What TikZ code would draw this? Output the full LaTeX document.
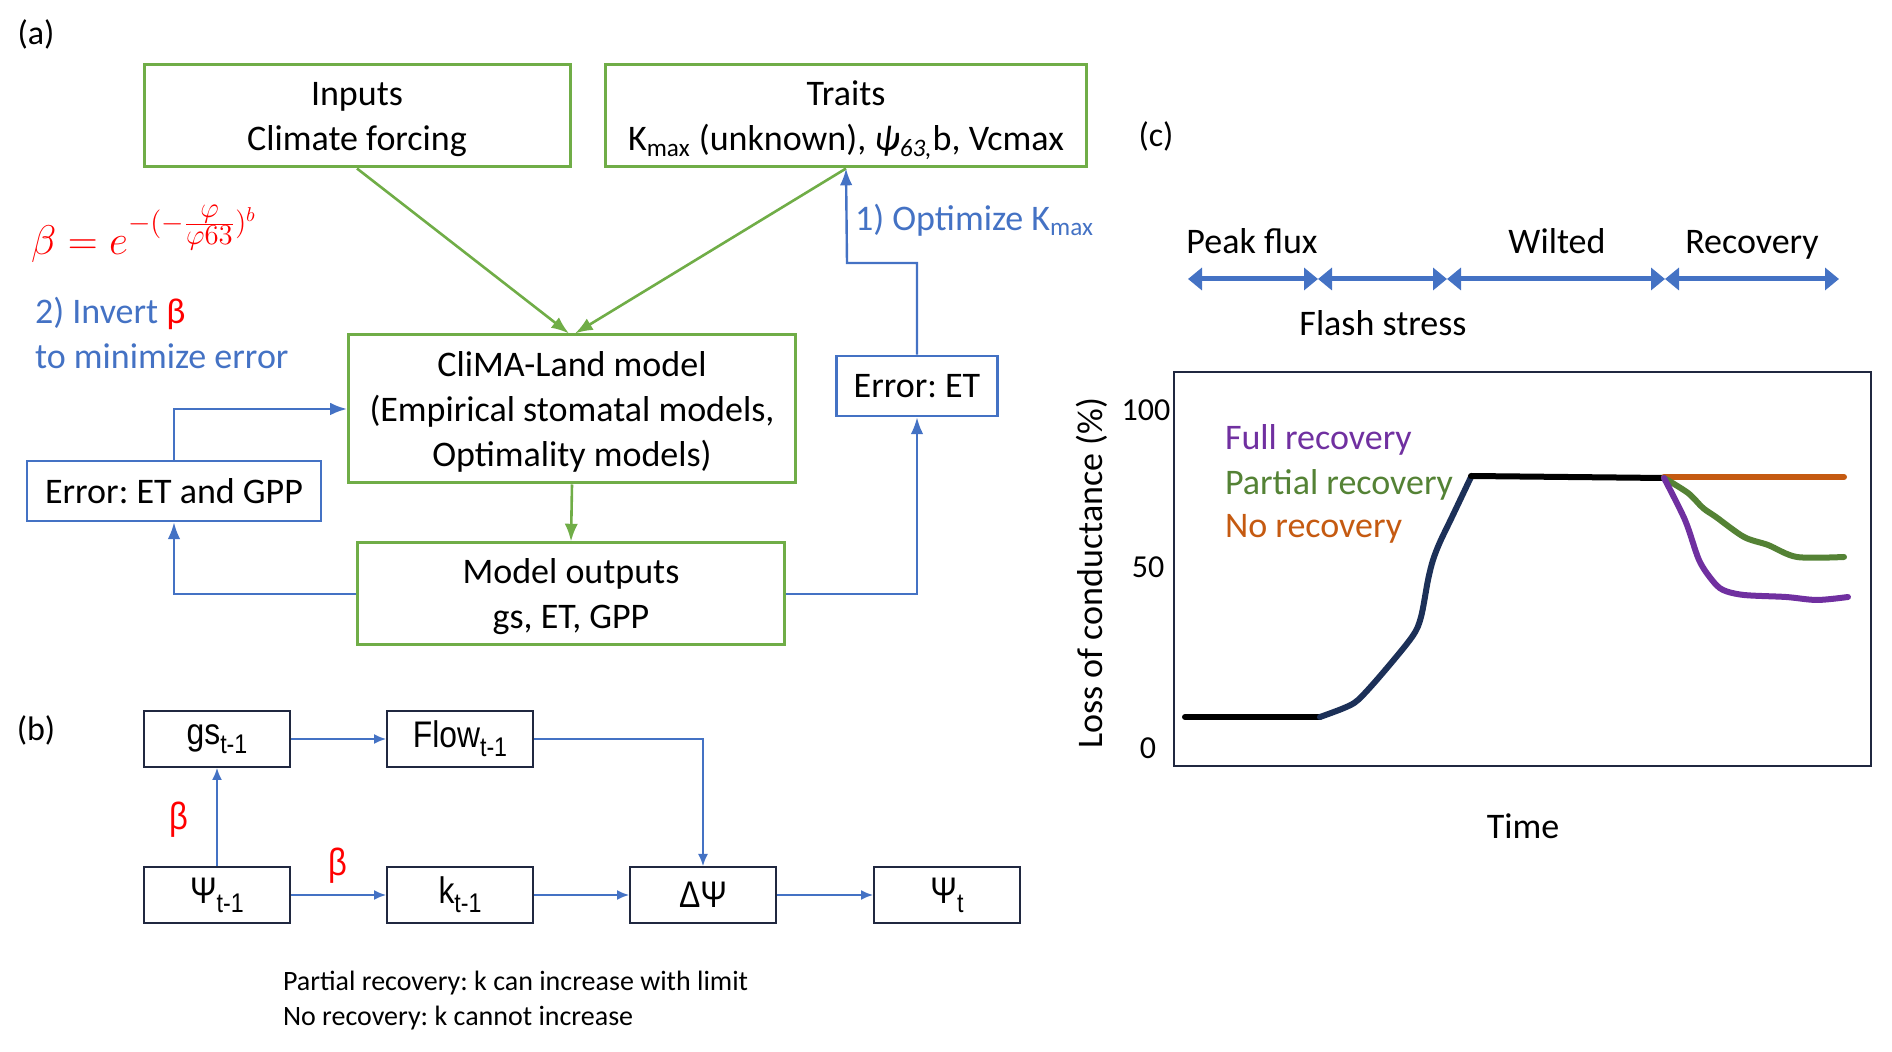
\documentclass[tikz,border=0pt]{standalone}
\usepackage{fontspec}
\setmainfont{Carlito}
\newfontfamily\arialfont[FakeStretch=0.86]{Liberation Sans}
\usepackage{amsmath}
\usetikzlibrary{
  calc,
  positioning,
  arrows.meta
}
\definecolor{boxgreen}{RGB}{112,173,71}
\definecolor{linkblue}{RGB}{68,114,196}
\definecolor{boxnavy}{RGB}{32,40,64}
\definecolor{risenavy}{RGB}{28,48,88}
\definecolor{fullpurple}{RGB}{112,48,160}
\definecolor{partgreen}{RGB}{84,130,53}
\definecolor{noorange}{RGB}{197,90,17}
\newcommand{\stepsub}[1]{\raisebox{-4.5pt}{\fontsize{13.5}{14}\selectfont #1}}
\frenchspacing

\begin{document}
\begin{tikzpicture}[>=Latex, x=0.5pt, y=-0.5pt]
  \tikzset{
    big/.style={font=\fontsize{18}{22.5}\selectfont},
    gbox/.style={big, draw=boxgreen, line width=1.5pt, align=center, inner sep=0pt,
      text depth=-1pt},
    bbox/.style={big, draw=linkblue, line width=1.3pt, align=center, inner sep=0pt},
    glink/.style={->, draw=boxgreen, line width=1.3pt},
    blink/.style={->, draw=linkblue, line width=1.2pt},
    stepnode/.style={font=\arialfont\fontsize{18.5}{20}\selectfont, draw=boxnavy, line width=1pt,
      minimum width=73pt, minimum height=28pt, inner sep=0pt},
    slink/.style={-{Latex[length=6pt,width=5pt]}, draw=linkblue, line width=0.8pt},
    phase/.style={{Triangle[length=7pt,width=11pt]}-{Triangle[length=7pt,width=11pt]},
      draw=linkblue, line width=2.5pt},
    curve/.style={line width=3pt, line cap=round, line join=round},
  }
  \useasboundingbox (0,0) rectangle (1892,1052);

  % (a)
  \node[font=\fontsize{17}{20}\selectfont] (lbla) at (36,34) {(a)};
  \node[gbox, minimum width=213pt, minimum height=51pt] (inputs) at (357,116)
    {Inputs\\Climate forcing};
  \node[gbox, minimum width=240.5pt, minimum height=51pt] (traits) at (846,116)
    {Traits\\K\textsubscript{max} (unknown), \textit{ψ\textsubscript{63,}}b, Vcmax};
  \node[gbox, minimum width=223.5pt, minimum height=74pt] (clima) at (572,409)
    {CliMA-Land model\\(Empirical stomatal models,\\Optimality models)};
  \node[gbox, minimum width=213.5pt, minimum height=51pt] (outputs) at (571,594)
    {Model outputs\\gs, ET, GPP};
  \node[bbox, minimum width=80.5pt, minimum height=30pt] (erret) at (917,386) {Error: ET};
  \node[bbox, minimum width=147pt, minimum height=30pt] (errgpp) at (174,491) {Error: ET and GPP};

  \node[anchor=west, text=red, font=\fontsize{20}{24}\selectfont] (beta) at (24,234)
    {$\beta = e^{-(-\frac{\scriptstyle\varphi}{\scriptstyle\varphi 63})^{b}}$};
  \node[big, anchor=west, align=left, text=linkblue] (invert) at (28,333)
    {2) Invert \textcolor{red}{β}\\to minimize error};
  \node[big, anchor=west, text=linkblue] (optk) at (848,220) {1) Optimize K\textsubscript{max}};

  \draw[glink] (inputs.south) -- ([xshift=-1.5pt]clima.north);
  \draw[glink] (traits.south) -- ([xshift=1.5pt]clima.north);
  \draw[glink] (clima.south) -- (outputs.north);
  \draw[blink] (outputs.west) -| (errgpp.south);
  \draw[blink] (errgpp.north) |- (clima.west);
  \draw[blink] (outputs.east) -| (erret.south);
  \coordinate (kbend) at (847,263);
  \draw[blink] (erret.north) |- (kbend) -- (traits.south);

  % (b)
  \node[font=\fontsize{17}{20}\selectfont] (lblb) at (36,730) {(b)};
  \node[stepnode] (gs) at (217,739) {gs\stepsub{t-1}};
  \node[stepnode] (flow) at (460,739) {Flow\stepsub{t-1}};
  \node[stepnode] (psiold) at (217,895) {Ψ\stepsub{t-1}};
  \node[stepnode] (kt) at (460,895) {k\stepsub{t-1}};
  \node[stepnode] (dpsi) at (703,895) {ΔΨ};
  \node[stepnode] (psinew) at (947,895) {Ψ\stepsub{t}};

  \draw[slink] (gs) -- (flow);
  \draw[slink] (flow.east) -| (dpsi.north);
  \draw[slink] (psiold) -- (gs);
  \draw[slink] (psiold) -- (kt);
  \draw[slink] (kt) -- (dpsi);
  \draw[slink] (dpsi) -- (psinew);
  \node[text=red, font=\arialfont\fontsize{19}{20}\selectfont] (betags) at (179,820) {β};
  \node[text=red, font=\arialfont\fontsize{19}{20}\selectfont] (betak) at (338,866) {β};

  \node[anchor=west, align=left, font=\fontsize{14}{17.5}\selectfont] (notes) at (276,1001)
    {Partial recovery: k can increase with limit\\No recovery: k cannot increase};

  % (c)
  \node[font=\fontsize{17}{20}\selectfont] (lblc) at (1156,136) {(c)};
  \node[big, anchor=base] (peak) at (1252,254) {Peak flux};
  \node[big, anchor=base] (wilted) at (1557,254) {Wilted};
  \node[big, anchor=base] (recov) at (1752,254) {Recovery};
  \node[big] (flash) at (1383,323) {Flash stress};
  \coordinate (p0) at (1188,279);
  \coordinate (p1) at (1318,279);
  \coordinate (p2) at (1447,279);
  \coordinate (p3) at (1665,279);
  \coordinate (p4) at (1839,279);
  \draw[phase] (p0) -- (p1);
  \draw[phase] (p1) -- (p2);
  \draw[phase] (p2) -- (p3);
  \draw[phase] (p3) -- (p4);

  \draw[draw=boxnavy, line width=0.9pt] (1174,372) rectangle (1871,766);
  \node[font=\fontsize{16}{19}\selectfont] (t100) at (1146,410) {100};
  \node[font=\fontsize{16}{19}\selectfont] (t50) at (1148,567) {50};
  \node[font=\fontsize{16}{19}\selectfont] (t0) at (1148,748) {0};
  \node[big, rotate=90] (ylab) at (1092,573) {Loss of conductance (\%)};
  \node[big] (time) at (1523,826) {Time};
  \node[big, anchor=west, text=fullpurple] (lfull) at (1218,440) {Full recovery};
  \node[big, anchor=west, text=partgreen] (lpart) at (1218,485) {Partial recovery};
  \node[big, anchor=west, text=noorange] (lno) at (1218,529) {No recovery};

  \draw[curve, black] (1185,717) -- (1320,717);
  \draw[curve, risenavy] plot[smooth] coordinates {(1320,717) (1344,708) (1358,700) (1381,675)
    (1412,637) (1421,617) (1428,580) (1433,560) (1440,542) (1452,517) (1471,477)};
  \draw[curve, black] (1471,476) -- (1664,478);
  \draw[curve, noorange] (1664,477) -- (1844,477);
  \draw[curve, partgreen] plot[smooth] coordinates {(1664,478) (1688,493) (1703,508) (1716,517)
    (1744,537) (1768,545) (1797,557) (1844,557)};
  \draw[curve, fullpurple] plot[smooth] coordinates {(1664,478) (1685,520) (1699,560) (1712,580)
    (1723,590) (1744,595) (1786,597) (1817,600) (1848,597)};
\end{tikzpicture}
\end{document}
